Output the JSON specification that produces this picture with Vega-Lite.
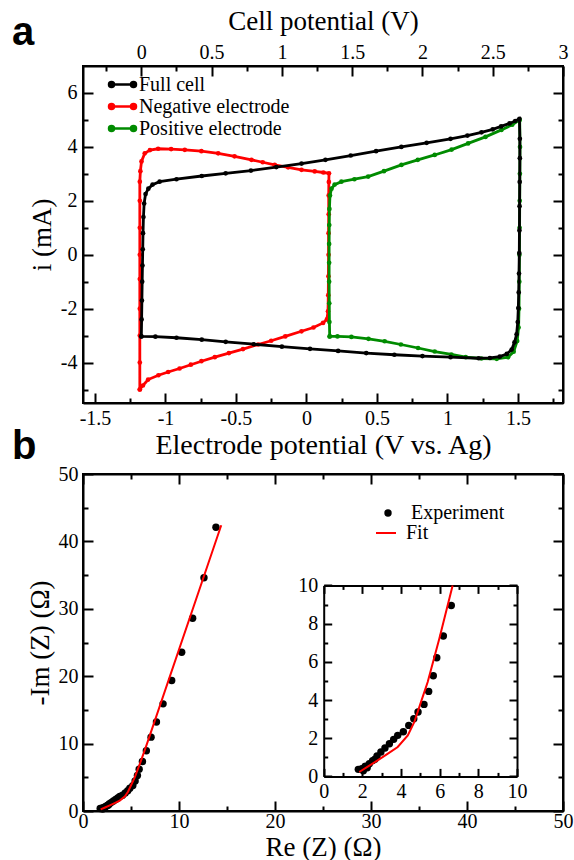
{
  "$schema": "https://vega.github.io/schema/vega-lite/v6.json",
  "padding": {"left": 11, "top": 6, "right": 5, "bottom": 0},
  "background": "white",
  "config": {
    "font": "Liberation Serif",
    "view": {"stroke": "black", "strokeWidth": 2},
    "axis": {
      "labelFont": "Liberation Serif", "labelFontSize": 20, "labelColor": "black",
      "titleFont": "Liberation Serif", "titleFontSize": 27, "titleFontWeight": "normal", "titleColor": "black",
      "domain": true, "domainColor": "black", "domainWidth": 2, "tickColor": "black", "tickWidth": 2,
      "grid": false, "labelPadding": 14, "labelFlush": false, "labelOverlap": false
    },
    "legend": {"labelFont": "Liberation Serif", "labelFontSize": 20, "labelColor": "black"}
  },
  "datasets": {
    "cv": [
      {"s": "Negative electrode", "o": 1, "x": -1.182, "i": -5.0},
      {"s": "Negative electrode", "o": 2, "x": -1.16, "i": -4.85},
      {"s": "Negative electrode", "o": 3, "x": -1.123, "i": -4.63},
      {"s": "Negative electrode", "o": 4, "x": -1.05, "i": -4.47},
      {"s": "Negative electrode", "o": 5, "x": -0.981, "i": -4.35},
      {"s": "Negative electrode", "o": 6, "x": -0.9, "i": -4.22},
      {"s": "Negative electrode", "o": 7, "x": -0.82, "i": -4.08},
      {"s": "Negative electrode", "o": 8, "x": -0.745, "i": -3.95},
      {"s": "Negative electrode", "o": 9, "x": -0.65, "i": -3.8},
      {"s": "Negative electrode", "o": 10, "x": -0.55, "i": -3.65},
      {"s": "Negative electrode", "o": 11, "x": -0.45, "i": -3.5},
      {"s": "Negative electrode", "o": 12, "x": -0.343, "i": -3.33},
      {"s": "Negative electrode", "o": 13, "x": -0.25, "i": -3.19},
      {"s": "Negative electrode", "o": 14, "x": -0.15, "i": -3.03},
      {"s": "Negative electrode", "o": 15, "x": -0.035, "i": -2.84},
      {"s": "Negative electrode", "o": 16, "x": 0.05, "i": -2.7},
      {"s": "Negative electrode", "o": 17, "x": 0.118, "i": -2.53},
      {"s": "Negative electrode", "o": 18, "x": 0.145, "i": -2.4},
      {"s": "Negative electrode", "o": 19, "x": 0.153, "i": -2.1},
      {"s": "Negative electrode", "o": 20, "x": 0.155, "i": -1.5},
      {"s": "Negative electrode", "o": 21, "x": 0.156, "i": -0.8},
      {"s": "Negative electrode", "o": 22, "x": 0.157, "i": 0.0},
      {"s": "Negative electrode", "o": 23, "x": 0.157, "i": 0.8},
      {"s": "Negative electrode", "o": 24, "x": 0.158, "i": 1.5},
      {"s": "Negative electrode", "o": 25, "x": 0.158, "i": 2.2},
      {"s": "Negative electrode", "o": 26, "x": 0.159, "i": 2.7},
      {"s": "Negative electrode", "o": 27, "x": 0.16, "i": 3.02},
      {"s": "Negative electrode", "o": 28, "x": 0.12, "i": 3.05},
      {"s": "Negative electrode", "o": 29, "x": 0.059, "i": 3.09},
      {"s": "Negative electrode", "o": 30, "x": -0.035, "i": 3.15},
      {"s": "Negative electrode", "o": 31, "x": -0.13, "i": 3.24},
      {"s": "Negative electrode", "o": 32, "x": -0.225, "i": 3.33},
      {"s": "Negative electrode", "o": 33, "x": -0.31, "i": 3.43},
      {"s": "Negative electrode", "o": 34, "x": -0.39, "i": 3.52},
      {"s": "Negative electrode", "o": 35, "x": -0.51, "i": 3.65},
      {"s": "Negative electrode", "o": 36, "x": -0.626, "i": 3.76},
      {"s": "Negative electrode", "o": 37, "x": -0.745, "i": 3.84},
      {"s": "Negative electrode", "o": 38, "x": -0.863, "i": 3.89},
      {"s": "Negative electrode", "o": 39, "x": -0.96, "i": 3.92},
      {"s": "Negative electrode", "o": 40, "x": -1.052, "i": 3.93},
      {"s": "Negative electrode", "o": 41, "x": -1.11, "i": 3.88},
      {"s": "Negative electrode", "o": 42, "x": -1.147, "i": 3.76},
      {"s": "Negative electrode", "o": 43, "x": -1.17, "i": 3.46},
      {"s": "Negative electrode", "o": 44, "x": -1.178, "i": 3.1},
      {"s": "Negative electrode", "o": 45, "x": -1.182, "i": 2.71},
      {"s": "Negative electrode", "o": 46, "x": -1.182, "i": 2.0},
      {"s": "Negative electrode", "o": 47, "x": -1.182, "i": 1.0},
      {"s": "Negative electrode", "o": 48, "x": -1.182, "i": 0.0},
      {"s": "Negative electrode", "o": 49, "x": -1.182, "i": -0.9},
      {"s": "Negative electrode", "o": 50, "x": -1.182, "i": -2.0},
      {"s": "Negative electrode", "o": 51, "x": -1.182, "i": -3.0},
      {"s": "Negative electrode", "o": 52, "x": -1.182, "i": -4.0},
      {"s": "Negative electrode", "o": 53, "x": -1.182, "i": -5.0},
      {"s": "Positive electrode", "o": 1, "x": 0.165, "i": -3.03},
      {"s": "Positive electrode", "o": 2, "x": 0.163, "i": -2.5},
      {"s": "Positive electrode", "o": 3, "x": 0.162, "i": -1.8},
      {"s": "Positive electrode", "o": 4, "x": 0.161, "i": -1.0},
      {"s": "Positive electrode", "o": 5, "x": 0.161, "i": -0.3},
      {"s": "Positive electrode", "o": 6, "x": 0.161, "i": 0.4},
      {"s": "Positive electrode", "o": 7, "x": 0.162, "i": 1.1},
      {"s": "Positive electrode", "o": 8, "x": 0.163, "i": 1.7},
      {"s": "Positive electrode", "o": 9, "x": 0.167, "i": 2.2},
      {"s": "Positive electrode", "o": 10, "x": 0.178, "i": 2.45},
      {"s": "Positive electrode", "o": 11, "x": 0.2, "i": 2.6},
      {"s": "Positive electrode", "o": 12, "x": 0.248, "i": 2.71},
      {"s": "Positive electrode", "o": 13, "x": 0.34, "i": 2.8},
      {"s": "Positive electrode", "o": 14, "x": 0.438, "i": 2.9},
      {"s": "Positive electrode", "o": 15, "x": 0.55, "i": 3.1},
      {"s": "Positive electrode", "o": 16, "x": 0.674, "i": 3.33},
      {"s": "Positive electrode", "o": 17, "x": 0.79, "i": 3.52},
      {"s": "Positive electrode", "o": 18, "x": 0.91, "i": 3.7},
      {"s": "Positive electrode", "o": 19, "x": 1.03, "i": 3.9},
      {"s": "Positive electrode", "o": 20, "x": 1.147, "i": 4.13},
      {"s": "Positive electrode", "o": 21, "x": 1.27, "i": 4.37},
      {"s": "Positive electrode", "o": 22, "x": 1.383, "i": 4.63},
      {"s": "Positive electrode", "o": 23, "x": 1.46, "i": 4.82},
      {"s": "Positive electrode", "o": 24, "x": 1.513, "i": 5.0},
      {"s": "Positive electrode", "o": 25, "x": 1.515, "i": 4.0},
      {"s": "Positive electrode", "o": 26, "x": 1.514, "i": 3.0},
      {"s": "Positive electrode", "o": 27, "x": 1.513, "i": 2.0},
      {"s": "Positive electrode", "o": 28, "x": 1.512, "i": 1.0},
      {"s": "Positive electrode", "o": 29, "x": 1.511, "i": 0.0},
      {"s": "Positive electrode", "o": 30, "x": 1.51, "i": -1.0},
      {"s": "Positive electrode", "o": 31, "x": 1.508, "i": -2.0},
      {"s": "Positive electrode", "o": 32, "x": 1.505, "i": -2.7},
      {"s": "Positive electrode", "o": 33, "x": 1.495, "i": -3.2},
      {"s": "Positive electrode", "o": 34, "x": 1.47, "i": -3.6},
      {"s": "Positive electrode", "o": 35, "x": 1.43, "i": -3.8},
      {"s": "Positive electrode", "o": 36, "x": 1.35, "i": -3.86},
      {"s": "Positive electrode", "o": 37, "x": 1.241, "i": -3.85},
      {"s": "Positive electrode", "o": 38, "x": 1.13, "i": -3.8},
      {"s": "Positive electrode", "o": 39, "x": 1.028, "i": -3.7},
      {"s": "Positive electrode", "o": 40, "x": 0.91, "i": -3.59},
      {"s": "Positive electrode", "o": 41, "x": 0.792, "i": -3.46},
      {"s": "Positive electrode", "o": 42, "x": 0.67, "i": -3.33},
      {"s": "Positive electrode", "o": 43, "x": 0.555, "i": -3.21},
      {"s": "Positive electrode", "o": 44, "x": 0.44, "i": -3.12},
      {"s": "Positive electrode", "o": 45, "x": 0.319, "i": -3.05},
      {"s": "Positive electrode", "o": 46, "x": 0.22, "i": -3.03},
      {"s": "Positive electrode", "o": 47, "x": 0.165, "i": -3.03},
      {"s": "Full cell", "o": 1, "x": 0.0, "i": -3.03},
      {"s": "Full cell", "o": 2, "x": 0.002, "i": -2.4},
      {"s": "Full cell", "o": 3, "x": 0.004, "i": -1.7},
      {"s": "Full cell", "o": 4, "x": 0.006, "i": -1.0},
      {"s": "Full cell", "o": 5, "x": 0.008, "i": -0.4},
      {"s": "Full cell", "o": 6, "x": 0.01, "i": 0.2},
      {"s": "Full cell", "o": 7, "x": 0.012, "i": 0.8},
      {"s": "Full cell", "o": 8, "x": 0.015, "i": 1.4},
      {"s": "Full cell", "o": 9, "x": 0.02, "i": 1.9},
      {"s": "Full cell", "o": 10, "x": 0.03, "i": 2.25},
      {"s": "Full cell", "o": 11, "x": 0.05, "i": 2.45},
      {"s": "Full cell", "o": 12, "x": 0.08, "i": 2.6},
      {"s": "Full cell", "o": 13, "x": 0.13, "i": 2.71},
      {"s": "Full cell", "o": 14, "x": 0.25, "i": 2.8},
      {"s": "Full cell", "o": 15, "x": 0.43, "i": 2.92},
      {"s": "Full cell", "o": 16, "x": 0.6, "i": 3.02},
      {"s": "Full cell", "o": 17, "x": 0.78, "i": 3.12},
      {"s": "Full cell", "o": 18, "x": 0.96, "i": 3.25},
      {"s": "Full cell", "o": 19, "x": 1.14, "i": 3.38},
      {"s": "Full cell", "o": 20, "x": 1.31, "i": 3.52},
      {"s": "Full cell", "o": 21, "x": 1.49, "i": 3.68},
      {"s": "Full cell", "o": 22, "x": 1.67, "i": 3.84},
      {"s": "Full cell", "o": 23, "x": 1.85, "i": 4.0},
      {"s": "Full cell", "o": 24, "x": 2.03, "i": 4.15},
      {"s": "Full cell", "o": 25, "x": 2.2, "i": 4.3},
      {"s": "Full cell", "o": 26, "x": 2.32, "i": 4.42},
      {"s": "Full cell", "o": 27, "x": 2.42, "i": 4.54},
      {"s": "Full cell", "o": 28, "x": 2.5, "i": 4.65},
      {"s": "Full cell", "o": 29, "x": 2.56, "i": 4.76},
      {"s": "Full cell", "o": 30, "x": 2.62, "i": 4.87},
      {"s": "Full cell", "o": 31, "x": 2.66, "i": 4.96},
      {"s": "Full cell", "o": 32, "x": 2.69, "i": 5.04},
      {"s": "Full cell", "o": 33, "x": 2.693, "i": 4.3},
      {"s": "Full cell", "o": 34, "x": 2.693, "i": 3.58},
      {"s": "Full cell", "o": 35, "x": 2.692, "i": 2.7},
      {"s": "Full cell", "o": 36, "x": 2.691, "i": 1.8},
      {"s": "Full cell", "o": 37, "x": 2.69, "i": 0.9},
      {"s": "Full cell", "o": 38, "x": 2.689, "i": 0.06},
      {"s": "Full cell", "o": 39, "x": 2.687, "i": -0.7},
      {"s": "Full cell", "o": 40, "x": 2.685, "i": -1.4},
      {"s": "Full cell", "o": 41, "x": 2.682, "i": -1.98},
      {"s": "Full cell", "o": 42, "x": 2.678, "i": -2.5},
      {"s": "Full cell", "o": 43, "x": 2.67, "i": -2.95},
      {"s": "Full cell", "o": 44, "x": 2.655, "i": -3.25},
      {"s": "Full cell", "o": 45, "x": 2.635, "i": -3.52},
      {"s": "Full cell", "o": 46, "x": 2.6, "i": -3.68},
      {"s": "Full cell", "o": 47, "x": 2.55, "i": -3.78},
      {"s": "Full cell", "o": 48, "x": 2.48, "i": -3.83},
      {"s": "Full cell", "o": 49, "x": 2.4, "i": -3.84},
      {"s": "Full cell", "o": 50, "x": 2.2, "i": -3.8},
      {"s": "Full cell", "o": 51, "x": 2.0, "i": -3.76},
      {"s": "Full cell", "o": 52, "x": 1.8, "i": -3.71},
      {"s": "Full cell", "o": 53, "x": 1.6, "i": -3.65},
      {"s": "Full cell", "o": 54, "x": 1.4, "i": -3.57},
      {"s": "Full cell", "o": 55, "x": 1.2, "i": -3.49},
      {"s": "Full cell", "o": 56, "x": 1.0, "i": -3.41},
      {"s": "Full cell", "o": 57, "x": 0.8, "i": -3.32},
      {"s": "Full cell", "o": 58, "x": 0.6, "i": -3.23},
      {"s": "Full cell", "o": 59, "x": 0.43, "i": -3.15},
      {"s": "Full cell", "o": 60, "x": 0.25, "i": -3.08},
      {"s": "Full cell", "o": 61, "x": 0.1, "i": -3.04},
      {"s": "Full cell", "o": 62, "x": 0.0, "i": -3.03}
    ],
    "eis": [
      {"s": "Experiment", "o": 1, "re": 1.79, "im": 0.37},
      {"s": "Experiment", "o": 2, "re": 1.97, "im": 0.4},
      {"s": "Experiment", "o": 3, "re": 2.05, "im": 0.3},
      {"s": "Experiment", "o": 4, "re": 2.15, "im": 0.54},
      {"s": "Experiment", "o": 5, "re": 2.25, "im": 0.45},
      {"s": "Experiment", "o": 6, "re": 2.36, "im": 0.66},
      {"s": "Experiment", "o": 7, "re": 2.53, "im": 0.82},
      {"s": "Experiment", "o": 8, "re": 2.65, "im": 0.9},
      {"s": "Experiment", "o": 9, "re": 2.76, "im": 1.07},
      {"s": "Experiment", "o": 10, "re": 2.96, "im": 1.28},
      {"s": "Experiment", "o": 11, "re": 3.17, "im": 1.49},
      {"s": "Experiment", "o": 12, "re": 3.4, "im": 1.71},
      {"s": "Experiment", "o": 13, "re": 3.62, "im": 1.94},
      {"s": "Experiment", "o": 14, "re": 3.83, "im": 2.15},
      {"s": "Experiment", "o": 15, "re": 4.12, "im": 2.34},
      {"s": "Experiment", "o": 16, "re": 4.4, "im": 2.67},
      {"s": "Experiment", "o": 17, "re": 4.66, "im": 3.02},
      {"s": "Experiment", "o": 18, "re": 4.88, "im": 3.37},
      {"s": "Experiment", "o": 19, "re": 5.19, "im": 3.77},
      {"s": "Experiment", "o": 20, "re": 5.43, "im": 4.45},
      {"s": "Experiment", "o": 21, "re": 5.67, "im": 5.27},
      {"s": "Experiment", "o": 22, "re": 5.85, "im": 6.21},
      {"s": "Experiment", "o": 23, "re": 6.19, "im": 7.35},
      {"s": "Experiment", "o": 24, "re": 6.6, "im": 8.95},
      {"s": "Experiment", "o": 25, "re": 7.09, "im": 10.96},
      {"s": "Experiment", "o": 26, "re": 7.65, "im": 13.2},
      {"s": "Experiment", "o": 27, "re": 8.34, "im": 15.9},
      {"s": "Experiment", "o": 28, "re": 9.24, "im": 19.35},
      {"s": "Experiment", "o": 29, "re": 10.28, "im": 23.56},
      {"s": "Experiment", "o": 30, "re": 11.42, "im": 28.6},
      {"s": "Experiment", "o": 31, "re": 12.6, "im": 34.6},
      {"s": "Experiment", "o": 32, "re": 13.85, "im": 42.1},
      {"s": "Fit", "o": 1, "re": 1.84, "im": 0.23},
      {"s": "Fit", "o": 2, "re": 2.3, "im": 0.52},
      {"s": "Fit", "o": 3, "re": 2.79, "im": 0.84},
      {"s": "Fit", "o": 4, "re": 3.3, "im": 1.18},
      {"s": "Fit", "o": 5, "re": 3.83, "im": 1.54},
      {"s": "Fit", "o": 6, "re": 4.35, "im": 2.15},
      {"s": "Fit", "o": 7, "re": 4.69, "im": 2.85},
      {"s": "Fit", "o": 8, "re": 5.03, "im": 3.89},
      {"s": "Fit", "o": 9, "re": 5.38, "im": 4.94},
      {"s": "Fit", "o": 10, "re": 5.98, "im": 7.21},
      {"s": "Fit", "o": 11, "re": 6.67, "im": 10.0},
      {"s": "Fit", "o": 12, "re": 14.4, "im": 42.4}
    ]
  },
  "bounds": "flush",
  "spacing": 71,
  "resolve": {"scale": {"color": "independent", "shape": "independent"}, "legend": {"color": "independent", "shape": "independent"}},
  "vconcat": [
    {
      "width": 480,
      "height": 337,
      "title": {"text": "a", "anchor": "start", "frame": "group", "font": "Liberation Sans", "fontSize": 40, "fontWeight": "bold", "color": "black", "dx": -71, "dy": 0, "offset": -46},
      "data": {"name": "cv"},
      "layer": [
        {
          "layer": [
            {
              "transform": [{"filter": "datum.s === 'Negative electrode'"}],
              "mark": {"type": "line", "strokeWidth": 2.8, "point": {"filled": true, "size": 22}},
              "encoding": {
                "x": {"field": "x", "type": "quantitative", "scale": {"domain": [-1.585, 1.82], "nice": false, "zero": false},
                  "axis": {"orient": "bottom", "title": "Electrode potential (V vs. Ag)", "titleFontSize": 28, "titlePadding": -2, "labelPadding": 15, "domain": true,
                    "values": [-1.5, -1.25, -1, -0.75, -0.5, -0.25, 0, 0.25, 0.5, 0.75, 1, 1.25, 1.5, 1.75],
                    "labelExpr": "abs(datum.value*2 - round(datum.value*2)) < 0.001 ? (datum.value < -0.0001 ? '-' : '') + format(abs(datum.value), '~g') : ''",
                    "tickSize": {"condition": {"test": "abs(datum.value*2 - round(datum.value*2)) < 0.001", "value": -10}, "value": -5}}},
                "y": {"field": "i", "type": "quantitative", "scale": {"domain": [-5.5, 7], "nice": false, "zero": false},
                  "axis": {"orient": "left", "title": "i (mA)", "titlePadding": 4, "labelPadding": 16, "domain": true,
                    "values": [-5, -4, -3, -2, -1, 0, 1, 2, 3, 4, 5, 6],
                    "labelExpr": "abs(datum.value % 2) < 0.001 ? (datum.value < -0.0001 ? '-' : '') + format(abs(datum.value), '~g') : ''",
                    "tickSize": {"condition": {"test": "abs(datum.value % 2) < 0.001", "value": -10}, "value": -5}}},
                "color": {"field": "s", "type": "nominal",
                  "scale": {"domain": ["Full cell", "Negative electrode", "Positive electrode"], "range": ["#000000", "#ff0000", "#008b00"]},
                  "legend": {"title": null, "orient": "none", "legendX": 28, "legendY": 7, "padding": 0, "rowPadding": 0,
                    "labelFont": "Liberation Serif", "labelFontSize": 20, "labelColor": "black",
                    "symbolType": "M-1.1,0H1.1M-1.35,0a0.25,0.25 0 1,0 0.5,0a0.25,0.25 0 1,0 -0.5,0M0.85,0a0.25,0.25 0 1,0 0.5,0a0.25,0.25 0 1,0 -0.5,0",
                    "symbolSize": 400, "symbolStrokeWidth": 2.5, "symbolOffset": 0, "labelOffset": 5}},
                "order": {"field": "o", "type": "quantitative"}
              }
            },
            {
              "transform": [{"filter": "datum.s === 'Positive electrode'"}],
              "mark": {"type": "line", "strokeWidth": 2.8, "point": {"filled": true, "size": 22}},
              "encoding": {
                "x": {"field": "x", "type": "quantitative", "axis": null},
                "y": {"field": "i", "type": "quantitative", "axis": null},
                "color": {"field": "s", "type": "nominal"},
                "order": {"field": "o", "type": "quantitative"}
              }
            }
          ],
          "resolve": {"axis": {"x": "independent", "y": "independent"}}
        },
        {
          "transform": [{"filter": "datum.s === 'Full cell'"}],
          "mark": {"type": "line", "strokeWidth": 2.8, "point": {"filled": true, "size": 22}},
          "encoding": {
            "x": {"field": "x", "type": "quantitative", "scale": {"domain": [-0.415, 3.0], "nice": false, "zero": false},
              "axis": {"orient": "top", "title": "Cell potential (V)", "titlePadding": 2, "labelPadding": 14, "domain": true,
                "values": [-0.25, 0, 0.25, 0.5, 0.75, 1, 1.25, 1.5, 1.75, 2, 2.25, 2.5, 2.75, 3],
                "labelExpr": "abs(datum.value*2 - round(datum.value*2)) < 0.001 ? (datum.value < -0.0001 ? '-' : '') + format(abs(datum.value), '~g') : ''",
                "tickSize": {"condition": {"test": "abs(datum.value*2 - round(datum.value*2)) < 0.001", "value": -10}, "value": -5}}},
            "y": {"field": "i", "type": "quantitative",
              "axis": {"orient": "right", "title": null, "labels": false, "domain": true,
                "values": [-5, -4, -3, -2, -1, 0, 1, 2, 3, 4, 5, 6],
                "tickSize": {"condition": {"test": "abs(datum.value % 2) < 0.001", "value": -10}, "value": -5}}},
            "color": {"field": "s", "type": "nominal"},
            "order": {"field": "o", "type": "quantitative"}
          }
        }
      ],
      "resolve": {"scale": {"x": "independent"}, "axis": {"x": "independent", "y": "independent"}}
    },
    {
      "width": 480,
      "height": 337,
      "title": {"text": "b", "anchor": "start", "frame": "group", "font": "Liberation Sans", "fontSize": 40, "fontWeight": "bold", "color": "black", "dx": -71, "dy": 0, "offset": -3},
      "data": {"name": "eis"},
      "layer": [
        {
          "layer": [
            {
              "transform": [{"filter": "datum.s === 'Experiment'"}],
              "mark": {"type": "point", "filled": true, "size": 55, "opacity": 1, "color": "black"},
              "encoding": {
                "x": {"field": "re", "type": "quantitative", "scale": {"domain": [0, 50], "nice": false},
                  "axis": {"orient": "top", "title": null, "labels": false, "domain": true,
                    "values": [0, 5, 10, 15, 20, 25, 30, 35, 40, 45, 50],
                    "tickSize": {"condition": {"test": "datum.value % 10 === 0", "value": -10}, "value": -5}}},
                "y": {"field": "im", "type": "quantitative", "scale": {"domain": [0, 50], "nice": false},
                  "axis": {"orient": "right", "title": null, "labels": false, "domain": true,
                    "values": [0, 5, 10, 15, 20, 25, 30, 35, 40, 45, 50],
                    "tickSize": {"condition": {"test": "datum.value % 10 === 0", "value": -10}, "value": -5}}},
                "shape": {"field": "s", "type": "nominal",
                  "scale": {"domain": ["Experiment"], "range": ["circle"]},
                  "legend": {"title": null, "orient": "none", "legendX": 295, "legendY": 29, "padding": 0,
                    "labelFont": "Liberation Serif", "labelFontSize": 20, "labelColor": "black",
                    "symbolFillColor": "black", "symbolStrokeColor": "black", "symbolSize": 55, "symbolOffset": 0, "labelOffset": 13}}
              }
            },
            {
              "transform": [{"filter": "datum.s === 'Fit'"}],
              "mark": {"type": "line", "strokeWidth": 2},
              "encoding": {
                "x": {"field": "re", "type": "quantitative",
                  "axis": {"orient": "bottom", "title": "Re (Z) (Ω)", "titlePadding": -2, "labelPadding": 10, "domain": true,
                    "values": [0, 5, 10, 15, 20, 25, 30, 35, 40, 45, 50],
                    "labelExpr": "datum.value % 10 === 0 ? format(datum.value, '~g') : ''",
                    "tickSize": {"condition": {"test": "datum.value % 10 === 0", "value": -10}, "value": -5}}},
                "y": {"field": "im", "type": "quantitative",
                  "axis": {"orient": "left", "title": "-Im (Z) (Ω)", "titlePadding": 4, "labelPadding": 15, "domain": true,
                    "values": [0, 5, 10, 15, 20, 25, 30, 35, 40, 45, 50],
                    "labelExpr": "datum.value % 10 === 0 ? format(datum.value, '~g') : ''",
                    "tickSize": {"condition": {"test": "datum.value % 10 === 0", "value": -10}, "value": -5}}},
                "color": {"field": "s", "type": "nominal",
                  "scale": {"domain": ["Fit"], "range": ["#ff0000"]},
                  "legend": {"title": null, "orient": "none", "legendX": 292, "legendY": 48, "padding": 0,
                    "labelFont": "Liberation Serif", "labelFontSize": 20, "labelColor": "black",
                    "symbolType": "stroke", "symbolSize": 400, "symbolStrokeWidth": 2, "symbolOffset": 0, "labelOffset": 9}},
                "order": {"field": "o", "type": "quantitative"}
              }
            }
          ],
          "resolve": {"axis": {"x": "independent", "y": "independent"}}
        },
        {
          "layer": [
            {
              "transform": [{"filter": "datum.s === 'Experiment' && datum.re <= 10 && datum.im <= 10"}],
              "mark": {"type": "point", "filled": true, "size": 55, "opacity": 1, "color": "black"},
              "encoding": {
                "x": {"field": "re", "type": "quantitative", "scale": {"domain": [0, 10], "range": [240.7, 434], "nice": false},
                  "axis": {"orient": "top", "offset": -111.4, "title": null, "labels": false, "domain": true,
                    "values": [0, 1, 2, 3, 4, 5, 6, 7, 8, 9, 10],
                    "tickSize": {"condition": {"test": "datum.value % 2 === 0", "value": -8}, "value": -4}}},
                "y": {"field": "im", "type": "quantitative", "scale": {"domain": [0, 10], "range": [302.4, 111.4], "nice": false},
                  "axis": {"orient": "right", "offset": -46, "title": null, "labels": false, "domain": true,
                    "values": [0, 1, 2, 3, 4, 5, 6, 7, 8, 9, 10],
                    "tickSize": {"condition": {"test": "datum.value % 2 === 0", "value": -8}, "value": -4}}},
                "shape": {"field": "s", "type": "nominal"}
              }
            },
            {
              "transform": [{"filter": "datum.s === 'Fit' && datum.im <= 10.01"}],
              "mark": {"type": "line", "strokeWidth": 2},
              "encoding": {
                "x": {"field": "re", "type": "quantitative",
                  "axis": {"orient": "bottom", "offset": -34.6, "title": null, "labelPadding": 13, "domain": true,
                    "values": [0, 1, 2, 3, 4, 5, 6, 7, 8, 9, 10],
                    "labelExpr": "datum.value % 2 === 0 ? format(datum.value, '~g') : ''",
                    "tickSize": {"condition": {"test": "datum.value % 2 === 0", "value": -8}, "value": -4}}},
                "y": {"field": "im", "type": "quantitative",
                  "axis": {"orient": "left", "offset": -240.7, "title": null, "labelPadding": 14, "domain": true,
                    "values": [0, 1, 2, 3, 4, 5, 6, 7, 8, 9, 10],
                    "labelExpr": "datum.value % 2 === 0 ? format(datum.value, '~g') : ''",
                    "tickSize": {"condition": {"test": "datum.value % 2 === 0", "value": -8}, "value": -4}}},
                "color": {"field": "s", "type": "nominal"},
                "order": {"field": "o", "type": "quantitative"}
              }
            }
          ],
          "resolve": {"axis": {"x": "independent", "y": "independent"}}
        }
      ],
      "resolve": {"scale": {"x": "independent", "y": "independent"}, "axis": {"x": "independent", "y": "independent"}}
    }
  ]
}
